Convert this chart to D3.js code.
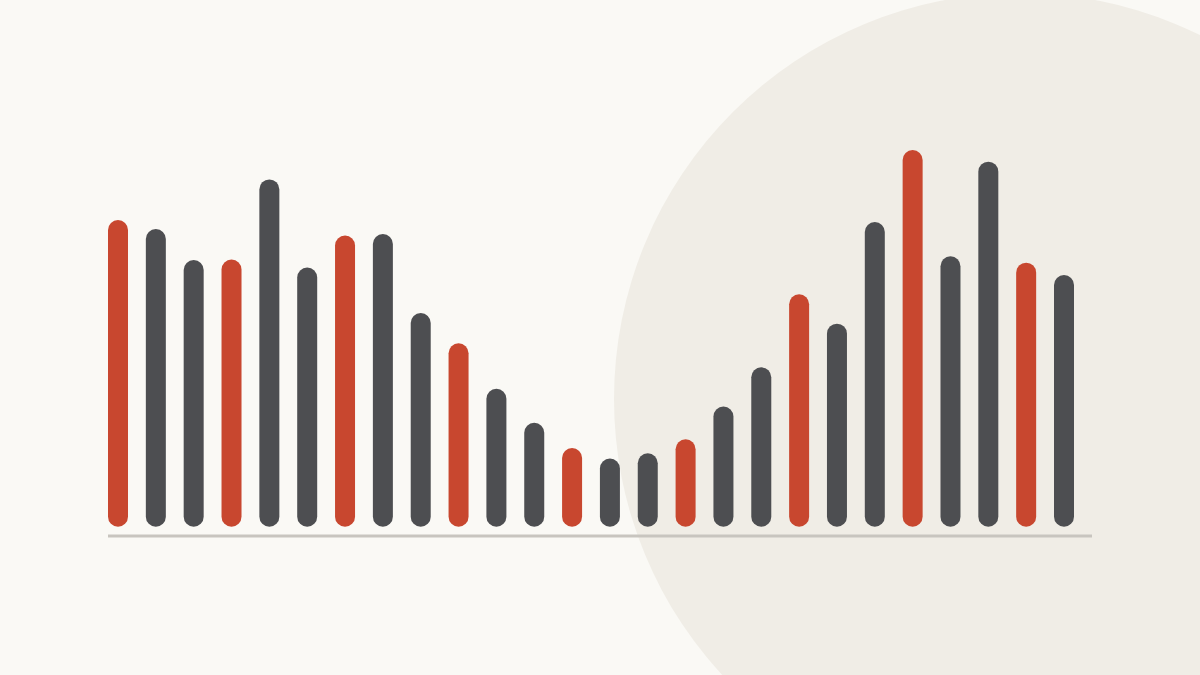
<!DOCTYPE html>
<html>
<head>
<meta charset="utf-8">
<script src="https://cdn.jsdelivr.net/npm/d3@7"></script>
<style>
    html, body { margin: 0; padding: 0; background: #faf9f5; }
    svg { display: block; }
</style>
</head>
<body>
<script>
//bar chart with rounded bars - every third bar highlighted
window.onload = function(){

    //svg dimension variables
    var w = 1200, h = 675;

    //data
    var categories = d3.range(1, 27).map(function(d){ return "P" + d; });
    var values = [81.4, 79.0, 70.8, 70.9, 92.2, 68.8, 77.3, 77.7, 56.7, 48.7,
                  36.6, 27.6, 20.9, 18.1, 19.5, 23.2, 31.9, 42.3, 61.7, 53.9,
                  80.9, 100, 71.8, 96.9, 70.1, 66.8];
    var highlight = [1, 0, 0, 1, 0, 0, 1, 0, 0, 1, 0, 0, 1,
                     0, 0, 1, 0, 0, 1, 0, 0, 1, 0, 0, 1, 0];

    var data = categories.map(function(c, i){
        return { cat: c, value: values[i], hi: highlight[i] };
    });

    var container = d3.select("body")
        .append("svg")
        .attr("width", w)
        .attr("height", h)
        .attr("class", "container");

    //background
    container.append("rect")
        .attr("class", "bg")
        .attr("width", w)
        .attr("height", h)
        .style("fill", "#faf9f5");

    //big decorative circle
    container.append("circle")
        .attr("class", "deco")
        .attr("cx", 1020)
        .attr("cy", 399)
        .attr("r", 406)
        .style("fill", "#f0ede6");

    //scales
    var x = d3.scaleBand()
        .domain(categories)
        .range([108, 1074])
        .paddingInner(0.4715)
        .paddingOuter(0);

    var base = 526.7;
    var y = d3.scaleLinear()
        .domain([0, 100])
        .range([base, 150]);

    //baseline
    container.append("line")
        .attr("class", "baseline")
        .attr("x1", 108)
        .attr("x2", 1092)
        .attr("y1", 536)
        .attr("y2", 536)
        .style("stroke", "#c8c5bf")
        .style("stroke-width", 3);

    var bw = x.bandwidth();

    //bars
    var bars = container.selectAll(".bars")
        .data(data)
        .enter()
        .append("rect")
        .attr("class", "bars")
        .attr("x", function(d){ return x(d.cat); })
        .attr("y", function(d){ return y(d.value); })
        .attr("width", bw)
        .attr("height", function(d){ return base - y(d.value); })
        .attr("rx", bw / 2)
        .attr("ry", bw / 2)
        .style("fill", function(d){
            return d.hi ? "#c8472f" : "#4d4e51";
        });
};
</script>
</body>
</html>
